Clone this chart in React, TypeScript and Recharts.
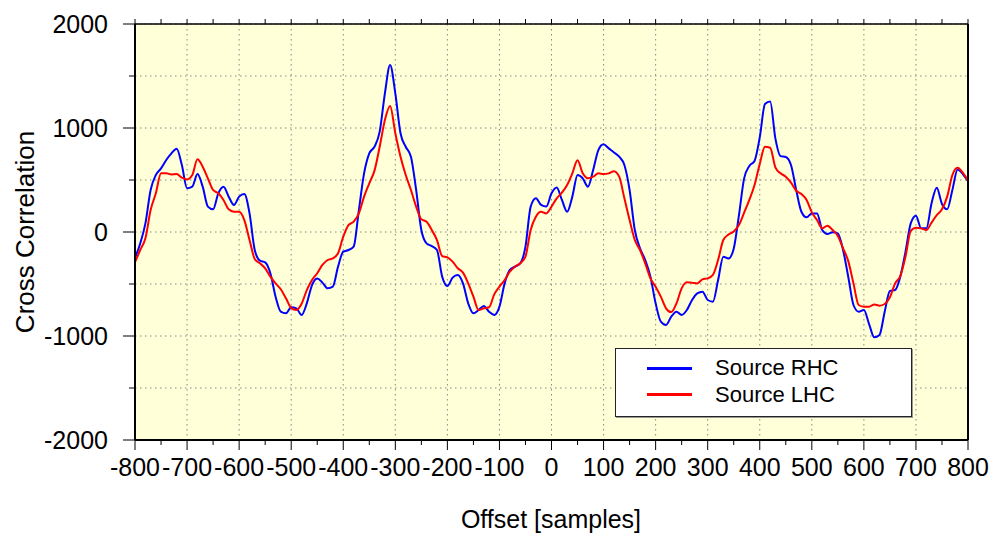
import React from 'react';
import { LineChart, Line, XAxis, YAxis, CartesianGrid, Legend } from 'recharts';

const FONT = '"Liberation Sans", Arial, Helvetica, sans-serif';

// sample offsets, every 10 samples from -800 to 800
const offsets = Array.from({ length: 161 }, (_, i) => -800 + i * 10);

const rhc = [
  -250, -110, 83, 404, 548, 612, 692, 756, 800, 644,
  420, 436, 557, 436, 244, 218, 372, 436, 340, 260,
  340, 365, 179, -173, -276, -292, -397, -622, -766, -782,
  -724, -734, -798, -686, -510, -446, -487, -542, -526, -333,
  -189, -173, -141, 211, 564, 756, 820, 965, 1333, 1606,
  1333, 949, 820, 724, 404, 19, -109, -135, -173, -429,
  -519, -439, -413, -494, -686, -782, -750, -711, -766, -798,
  -718, -494, -365, -333, -301, -141, 244, 324, 260, 244,
  372, 429, 308, 195, 340, 548, 516, 436, 596, 788,
  843, 804, 765, 724, 644, 404, 19, -157, -269, -429,
  -686, -862, -894, -814, -766, -798, -750, -654, -590, -574,
  -654, -670, -462, -237, -255, -160, 160, 516, 635, 683,
  910, 1230, 1255, 900, 730, 721, 644, 404, 195, 141,
  179, 179, 19, -19, -3, -13, -173, -430, -702, -766,
  -750, -885, -1013, -990, -766, -567, -558, -429, -189, 83,
  157, 35, 35, 276, 426, 269, 218, 404, 602, 558,
  490,
];

const lhc = [
  -290, -173, -61, 211, 372, 564, 564, 554, 557, 522,
  506, 548, 700, 628, 516, 404, 372, 308, 218, 195,
  195, 115, -77, -260, -301, -349, -429, -494, -551, -638,
  -731, -750, -690, -558, -462, -397, -317, -269, -253, -205,
  -45, 67, 99, 179, 340, 468, 590, 820, 1077, 1211,
  949, 724, 548, 404, 244, 122, 99, 19, -77, -231,
  -244, -285, -349, -391, -494, -622, -750, -734, -724, -600,
  -526, -462, -381, -333, -301, -237, 19, 147, 195, 179,
  244, 324, 378, 452, 564, 690, 564, 516, 532, 564,
  557, 564, 585, 532, 324, 115, -77, -173, -301, -446,
  -526, -622, -734, -770, -686, -542, -484, -487, -494, -455,
  -446, -413, -269, -77, -25, 5, 67, 186, 308, 452,
  654, 820, 810, 622, 564, 532, 474, 397, 365, 308,
  189, 115, 35, 61, 19, -38, -157, -280, -494, -702,
  -718, -718, -696, -708, -692, -628, -494, -423, -237, 10,
  42, 35, 19, 90, 163, 218, 340, 548, 618, 570,
  490,
];

const legendOrder = ['rhc', 'lhc'];

const xMinorTicks = [
  -800, -750, -700, -650, -600, -550, -500, -450, -400, -350, -300, -250, -200, -150, -100, -50,
  0, 50, 100, 150, 200, 250, 300, 350, 400, 450, 500, 550, 600, 650, 700, 750, 800,
];
const xGrid = [-800, -700, -600, -500, -400, -300, -200, -100, 0, 100, 200, 300, 400, 500, 600, 700, 800];
const yTicks = [-2000, -1500, -1000, -500, 0, 500, 1000, 1500, 2000];

const data = offsets.map((offset, i) => ({ offset, rhc: rhc[i], lhc: lhc[i] }));

const XTick = ({ x, y, payload }: any) => {
  const major = payload.value % 100 === 0;
  return (
    <g>
      <line x1={x} x2={x} y1={y} y2={y + (major ? 10 : 5)} stroke="#000" strokeWidth={1} />
      {major && (
        <text x={x} y={y + 36} textAnchor="middle" fontSize={25} fontFamily={FONT} fill="#000">
          {payload.value}
        </text>
      )}
    </g>
  );
};

const YTick = ({ x, y, payload }: any) => {
  const major = payload.value % 1000 === 0;
  return (
    <g>
      <line x1={x} x2={x - (major ? 12 : 6)} y1={y} y2={y} stroke="#000" strokeWidth={1} />
      {major && (
        <text x={x - 27} y={y + 9} textAnchor="end" fontSize={25} fontFamily={FONT} fill="#000">
          {payload.value}
        </text>
      )}
    </g>
  );
};

const LegendBox = ({ payload }: any) => {
  const items = [...(payload || [])].sort(
    (a: any, b: any) => legendOrder.indexOf(a.dataKey) - legendOrder.indexOf(b.dataKey)
  );
  return (
    <div
      style={{
        width: 297,
        height: 69,
        boxSizing: 'border-box',
        background: '#fff',
        border: '1px solid #222',
        boxShadow: '1px 1px 0 #999',
        fontFamily: FONT,
        fontSize: 22,
        position: 'relative',
      }}
    >
      {items.map((p: any, i: number) => (
        <div
          key={p.value}
          style={{ position: 'absolute', left: 0, top: 6 + i * 26.5, height: 26, display: 'flex', alignItems: 'center' }}
        >
          <span style={{ display: 'inline-block', width: 45, height: 3, background: p.color, marginLeft: 31 }} />
          <span style={{ marginLeft: 23, color: '#000' }}>{p.value}</span>
        </div>
      ))}
    </div>
  );
};

export default function App() {
  return (
    <div style={{ position: 'absolute', left: 0, top: 0, background: '#fff', fontFamily: FONT }}>
      <LineChart width={1000} height={544} data={data} margin={{ top: 0, right: 0, bottom: 0, left: 0 }}>
        <CartesianGrid
          fill="#FFFFD8"
          fillOpacity={1}
          stroke="#888"
          strokeDasharray="1.5 3.5"
          verticalValues={xGrid}
          horizontalValues={yTicks}
        />
        <XAxis
          dataKey="offset"
          type="number"
          domain={[-800, 800]}
          ticks={xMinorTicks}
          interval={0}
          height={104}
          tickSize={0}
          tickMargin={0}
          tickLine={false}
          axisLine={{ stroke: '#000', strokeWidth: 2 }}
          tick={<XTick />}
          label={() => (
            <text x={551} y={528} textAnchor="middle" fontSize={25} fontFamily={FONT} fill="#000">
              Offset [samples]
            </text>
          )}
        />
        <XAxis
          xAxisId="top"
          orientation="top"
          dataKey="offset"
          type="number"
          domain={[-800, 800]}
          ticks={xMinorTicks}
          interval={0}
          height={24}
          tickSize={5}
          tickFormatter={() => ''}
          tickLine={{ stroke: '#000' }}
          axisLine={{ stroke: '#000', strokeWidth: 1.5 }}
        />
        <YAxis
          type="number"
          domain={[-2000, 2000]}
          ticks={yTicks}
          interval={0}
          width={135}
          tickSize={0}
          tickMargin={0}
          tickLine={false}
          axisLine={{ stroke: '#000', strokeWidth: 2 }}
          tick={<YTick />}
          label={() => (
            <text
              x={34}
              y={232}
              transform="rotate(-90 34 232)"
              textAnchor="middle"
              fontSize={26}
              fontFamily={FONT}
              fill="#000"
            >
              Cross Correlation
            </text>
          )}
        />
        <YAxis
          yAxisId="right"
          orientation="right"
          type="number"
          domain={[-2000, 2000]}
          ticks={yTicks}
          interval={0}
          width={32}
          tickSize={5}
          tickFormatter={() => ''}
          tickLine={{ stroke: '#000' }}
          axisLine={{ stroke: '#000', strokeWidth: 2 }}
        />
        <Legend
          layout="vertical"
          align="center"
          verticalAlign="middle"
          content={<LegendBox />}
          wrapperStyle={{ left: 615, top: 348, width: 297, height: 69 }}
        />
        <Line
          type="monotone"
          dataKey="rhc"
          name="Source RHC"
          stroke="#0000FF"
          strokeWidth={2}
          dot={false}
          isAnimationActive={false}
        />
        <Line
          type="monotone"
          dataKey="lhc"
          name="Source LHC"
          stroke="#FF0000"
          strokeWidth={2}
          dot={false}
          isAnimationActive={false}
        />
      </LineChart>
    </div>
  );
}
